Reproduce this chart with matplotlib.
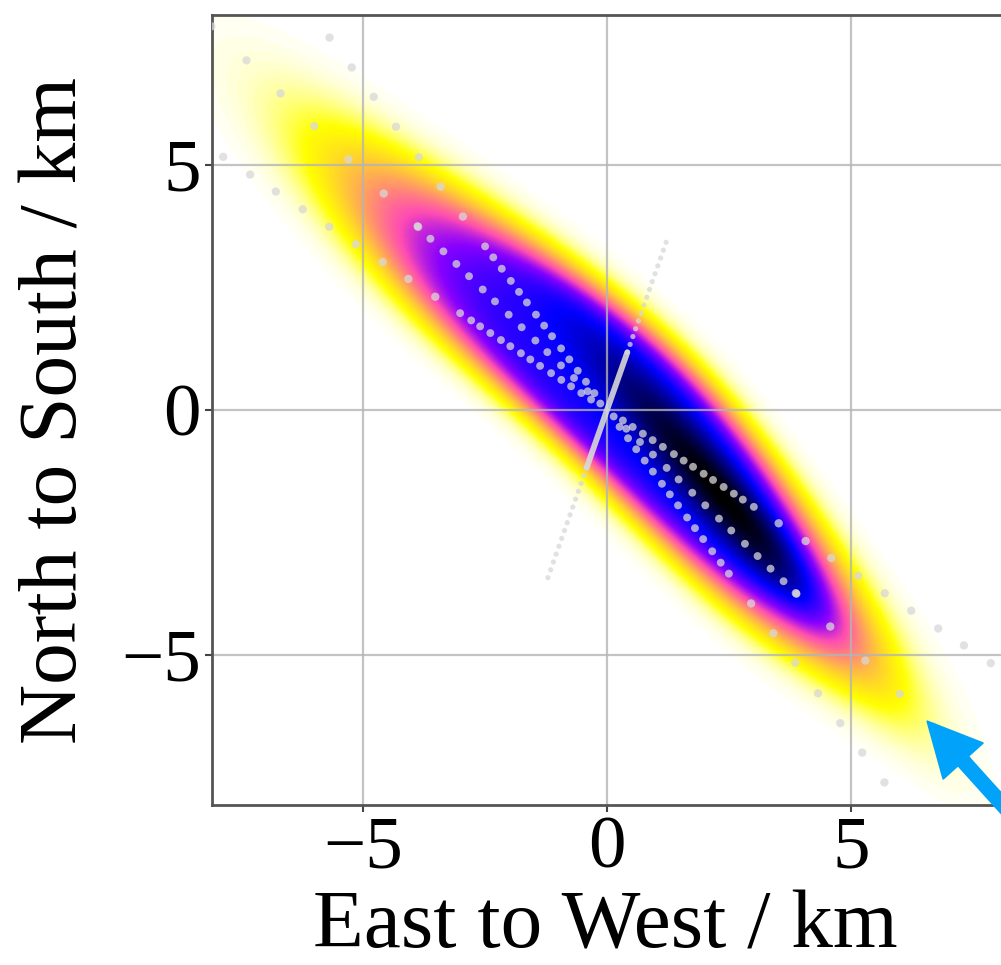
import numpy as np
import matplotlib
matplotlib.use("Agg")
import matplotlib.pyplot as plt
from matplotlib.patches import FancyArrow
from matplotlib.transforms import IdentityTransform

# sample rays through the origin: direction (deg) and radii of the points (km)
ray_angles = [126.8, 136.0, 146.7]
coarse_r = [
    [4.93, 5.69, 6.44, 7.22, 7.98, 8.73, 9.49],
    [5.38, 6.36, 7.36, 8.34, 9.30, 10.27, 11.27],
    [4.21, 4.87, 5.50, 6.16, 6.81, 7.46, 8.12, 8.75, 9.41, 10.06],
]
dense_r = [
    [0.43, 0.72, 1.00, 1.29, 1.57, 1.88, 2.15, 2.43, 2.74, 3.01, 3.29, 3.60, 3.89, 4.17],
    [0.19, 0.55, 0.94, 1.31, 1.70, 2.04, 2.43, 2.80, 3.19, 3.54, 3.93, 4.29, 4.66, 5.03, 5.40],
    [0.39, 0.63, 0.88, 1.12, 1.37, 1.64, 1.88, 2.11, 2.37, 2.60, 2.86, 3.11, 3.33, 3.60],
]
minor_angle = 70.5
minor_r = [1.25, 1.42, 1.59, 1.76, 1.93, 2.10, 2.27, 2.44, 2.61, 2.78, 2.95,
           3.12, 3.29, 3.46, 3.63]
minor_solid = 1.25

# density model (slightly bowed band + dark core)
band_center = (0.065, -0.2)
band_angle = -43.6
band_len = 6.3
band_half = 1.36
band_bulge = 0.45
bulge_len = 4.5
soft_side = 0.12
soft_tip_ul = 0.17   # upper-left tail fades more slowly
soft_tip_lr = 0.115
band_level = 0.78
core_center = (2.45, -1.85)
core_angle = -50.0
core_sig = (2.8, 0.44)
core_level = 0.3

xlim = (-8.094, 8.115)
ylim = (-8.06, 8.06)


def rot(x, y, c, ang):
    a = np.deg2rad(ang)
    dx, dy = x - c[0], y - c[1]
    u = dx * np.cos(a) + dy * np.sin(a)
    v = -dx * np.sin(a) + dy * np.cos(a)
    return u, v


xs = np.linspace(xlim[0], xlim[1], 500)
ys = np.linspace(ylim[0], ylim[1], 500)
X, Y = np.meshgrid(xs, ys)

u, v = rot(X, Y, band_center, band_angle)
vc = band_bulge * np.exp(-(u / bulge_len) ** 2)
su2 = (u / band_len) ** 2
sv2 = ((v - vc) / band_half) ** 2
s = np.sqrt(su2 + sv2)
w = su2 / (su2 + sv2 + 1e-9)
soft_tip = np.where(u < 0, soft_tip_ul, soft_tip_lr)
soft = soft_side * (1 - w) + soft_tip * w
dens = band_level / (1 + np.exp((s - 1) / soft))
u2, v2 = rot(X, Y, core_center, core_angle)
dens = dens + core_level * np.exp(-0.5 * ((u2 / core_sig[0]) ** 2 + (v2 / core_sig[1]) ** 2))
dens = dens / dens.max()

plt.rcParams["font.family"] = ["Liberation Serif", "DejaVu Serif"]

fig = plt.figure(figsize=(10.01, 9.65), dpi=100)
ax = fig.add_axes([212 / 1001, 160 / 965, 791 / 1001, 790 / 965])
ax.imshow(dens, cmap="gnuplot2_r", vmin=0, vmax=1, origin="lower",
          extent=[xlim[0], xlim[1], ylim[0], ylim[1]], interpolation="bilinear",
          aspect="auto", zorder=0)

dot_kw = dict(color="#d8d8d8", alpha=0.75, edgecolor="none", zorder=3)
for ang, rc, rd in zip(ray_angles, coarse_r, dense_r):
    a = np.deg2rad(ang)
    for rr, size in ((rc, 36), (rd, 32)):
        r = np.concatenate([np.array(rr), -np.array(rr)])
        ax.scatter(r * np.cos(a), r * np.sin(a), s=size, **dot_kw)
a = np.deg2rad(minor_angle)
r = np.concatenate([np.array(minor_r), -np.array(minor_r)])
ax.scatter(r * np.cos(a), r * np.sin(a), s=14, **dot_kw)
ax.plot([-minor_solid * np.cos(a), minor_solid * np.cos(a)],
        [-minor_solid * np.sin(a), minor_solid * np.sin(a)],
        color="#d8d8d8", lw=4.2, alpha=0.9, solid_capstyle="round", zorder=3)

ax.set_xlim(xlim)
ax.set_ylim(ylim)
ax.set_xticks([-5, 0, 5])
ax.set_yticks([-5, 0, 5])
ax.grid(True, color="#b4b4b4", lw=1.6, alpha=0.8)
for sp in ax.spines.values():
    sp.set_color("#555555")
    sp.set_linewidth(2.0)
ax.tick_params(direction="out", length=5, width=1.5, color="#444444",
               labelsize=54, pad=3)
ax.set_xlabel("East to West / km", fontsize=60)
ax.set_ylabel("North to South / km", fontsize=60)
ax.xaxis.set_label_coords(0.4975, -0.108)
ax.yaxis.set_label_coords(-0.148, 0.5)

arrow = FancyArrow(1075, 80, 927 - 1075, 244 - 80, width=14, head_width=54,
                   head_length=54, length_includes_head=True, color="#00a2fa",
                   transform=IdentityTransform())
fig.add_artist(arrow)

fig.savefig("out.png", dpi=100)
